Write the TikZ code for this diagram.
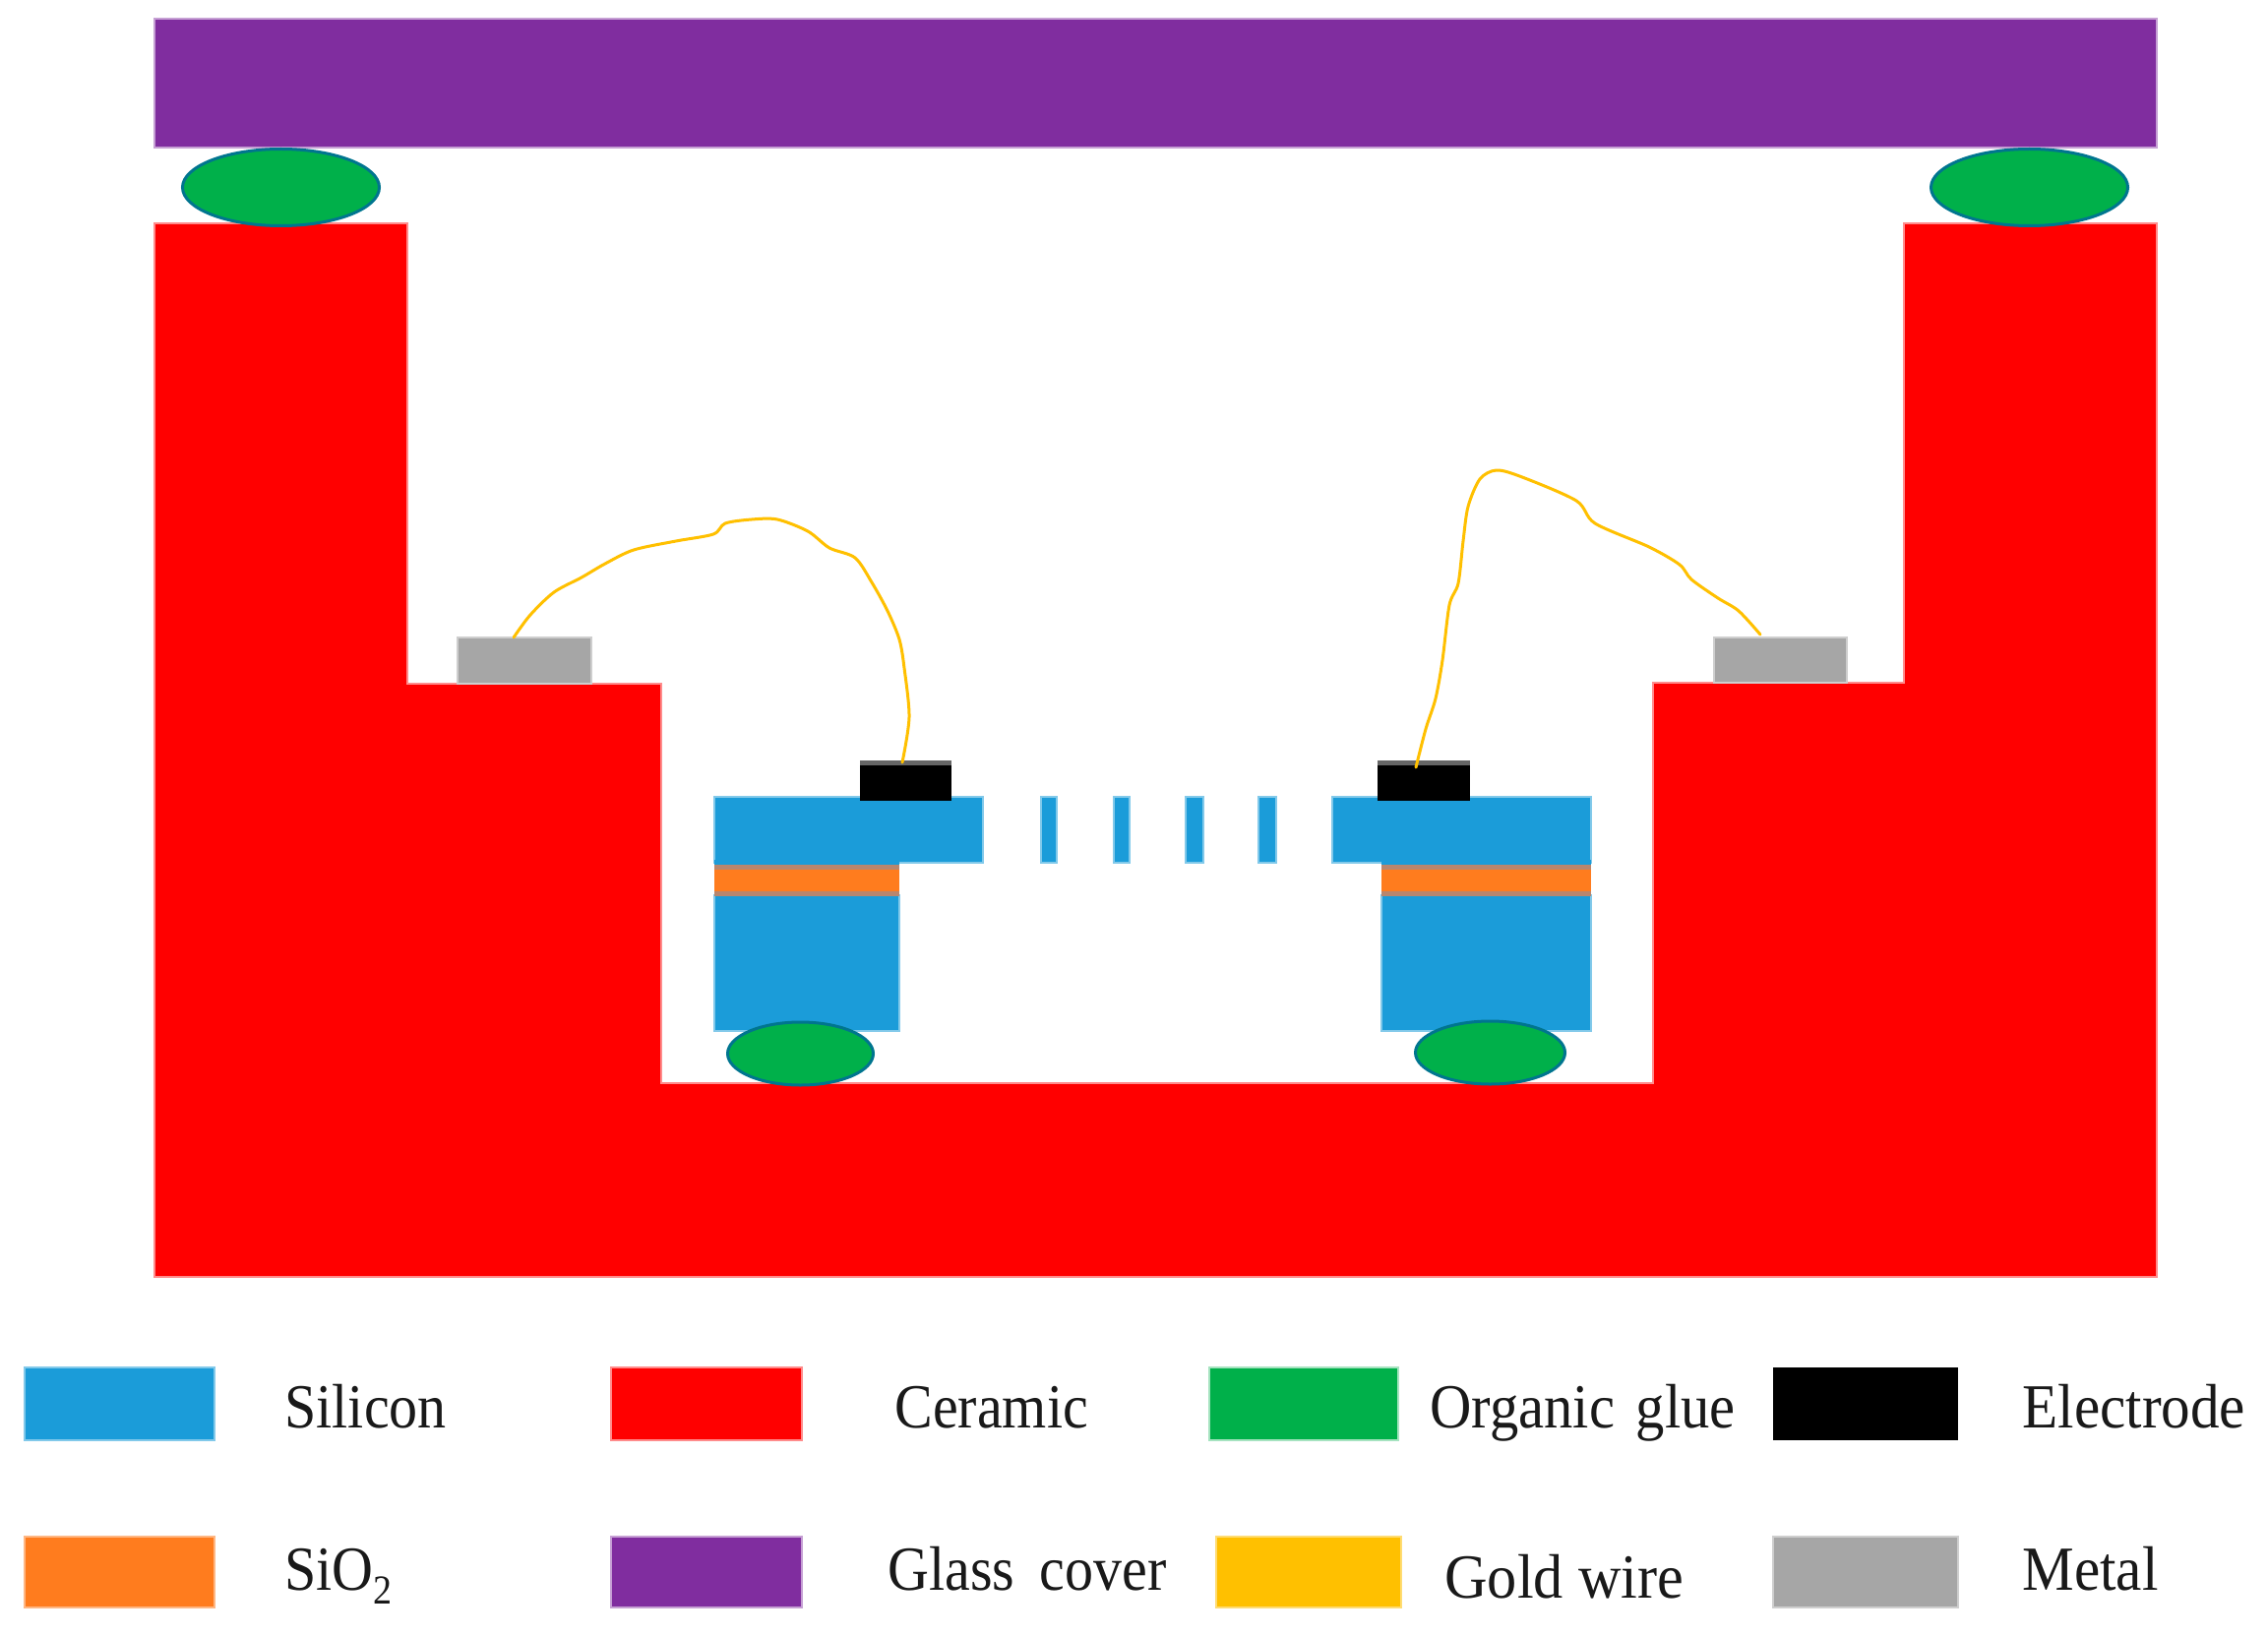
\documentclass[tikz,border=0pt]{standalone}
\usepackage{fontspec}
\setmainfont{Liberation Serif}
\definecolor{silicon}{HTML}{1B9CD9}
\definecolor{ceramic}{HTML}{FF0000}
\definecolor{glue}{HTML}{00B04A}
\definecolor{gluerim}{HTML}{00758F}
\definecolor{sio}{HTML}{FF7C1E}
\definecolor{sioedge}{HTML}{B8866E}
\definecolor{glasscol}{HTML}{802D9F}
\definecolor{goldcol}{HTML}{FFC000}
\definecolor{metalcol}{HTML}{A6A6A6}
\tikzset{
  siliconfill/.style={fill=silicon,draw=silicon!55,line width=1pt},
  ceramicfill/.style={fill=ceramic,draw=ceramic!45,line width=1pt},
  glassfill/.style={fill=glasscol,draw=glasscol!45,line width=1pt},
  metalfill/.style={fill=metalcol,draw=metalcol!55,line width=1pt},
  goldfill/.style={fill=goldcol,draw=goldcol!55,line width=1pt},
  siofill/.style={fill=sio,draw=sio!55,line width=1pt},
  gluefill/.style={fill=glue,draw=glue!35,line width=1pt},
  electrodefill/.style={fill=black},
  glueblob/.style={fill=glue,draw=gluerim,line width=1.5pt},
  wire/.style={draw=goldcol,line width=1.5pt,line cap=round,line join=round},
  lbl/.style={anchor=base west,inner sep=0pt,font=\fontsize{29}{30}\selectfont,yscale=1.1,transform shape,text=black!90}
}
\begin{document}
\begin{tikzpicture}[x=0.5pt,y=-0.5pt]
\useasboundingbox (0,0) rectangle (2305,1663);
\fill[white] (0,0) rectangle (2305,1663);
% glass cover
\path[glassfill] (157,19) rectangle (2192,150);
% ceramic package
\path[ceramicfill] (157,227) -- (414,227) -- (414,695) -- (672,695) -- (672,1101)
  -- (1680,1101) -- (1680,694) -- (1935,694) -- (1935,227) -- (2192,227)
  -- (2192,1298) -- (157,1298) -- cycle;
% metal pads
\path[metalfill] (465,648) rectangle (601,695);
\path[metalfill] (1742,648) rectangle (1877,694);
% left chip
\path[siliconfill] (726,910) rectangle (914,1048);
\path[siliconfill] (726,810) rectangle (999,877);
\fill[sioedge] (726,879) rectangle (914,911);
\fill[sio] (726,884) rectangle (914,906);
\fill[silicon] (726,874) rectangle (914,879);
% right chip
\path[siliconfill] (1404,910) rectangle (1617,1048);
\path[siliconfill] (1354,810) rectangle (1617,877);
\fill[sioedge] (1404,879) rectangle (1617,911);
\fill[sio] (1404,884) rectangle (1617,906);
\fill[silicon] (1404,874) rectangle (1617,879);
% comb slits
\path[siliconfill] (1058,810) rectangle (1074,877);
\path[siliconfill] (1132,810) rectangle (1148,877);
\path[siliconfill] (1205,810) rectangle (1223,877);
\path[siliconfill] (1279,810) rectangle (1297,877);
% electrodes
\fill[black!60] (874,773) rectangle (967,781);
\path[electrodefill] (874,778) rectangle (967,814);
\fill[black!60] (1400,773) rectangle (1494,781);
\path[electrodefill] (1400,778) rectangle (1494,814);
% glue
\path[glueblob] (285.5,190.5) ellipse [x radius=100,y radius=39];
\path[glueblob] (2062.5,190.5) ellipse [x radius=100,y radius=39];
\path[glueblob] (813.5,1071) ellipse [x radius=74,y radius=32];
\path[glueblob] (1514.5,1070) ellipse [x radius=76,y radius=32];
% wires
\draw[wire] plot[smooth,tension=0.5] coordinates {(522,648) (539,625) (563,602) (591,587) (615,573) (644,559) (687,550) (725,543) (737,532) (764,528) (790,528) (821,540) (843,557) (869,567) (886,592) (902,621) (914,650) (919,679) (924,729) (917,775)};
\draw[wire] plot[smooth,tension=0.5] coordinates {(1439,780) (1449,741) (1459,710) (1466,671) (1473,615) (1482,593) (1487,550) (1492,515) (1504,487) (1521,478) (1547,485) (1602,509) (1621,532) (1676,556) (1707,574) (1719,589) (1746,608) (1767,621) (1789,645)};
% legend swatches
\path[siliconfill] (25,1390) rectangle (218,1464);
\path[ceramicfill] (621,1390) rectangle (815,1464);
\path[gluefill] (1229,1390) rectangle (1421,1464);
\path[electrodefill] (1802,1390) rectangle (1990,1464);
\path[siofill] (25,1562) rectangle (218,1634);
\path[glassfill] (621,1562) rectangle (815,1634);
\path[goldfill] (1236,1562) rectangle (1424,1634);
\path[metalfill] (1802,1562) rectangle (1990,1634);
% legend labels
\node[lbl] (lsilicon) at (289,1451) {Silicon};
\node[lbl] (lceramic) at (909,1451) {Ceramic};
\node[lbl,xscale=1.01] (lglue) at (1453,1451) {Organic\hspace{3.5pt} glue};
\node[lbl,xscale=1.02] (lelectrode) at (2055,1451) {Electrode};
\node[lbl] (lsio) at (289,1616) {SiO\raisebox{-0.22em}{\fontsize{19}{20}\selectfont 2}};
\node[lbl] (lglass) at (902,1616) {Glass\hspace{5.5pt} cover};
\node[lbl,xscale=1.04] (lgold) at (1468,1624) {Gold wire};
\node[lbl,xscale=1.02] (lmetal) at (2055,1616) {Metal};
\end{tikzpicture}
\end{document}
